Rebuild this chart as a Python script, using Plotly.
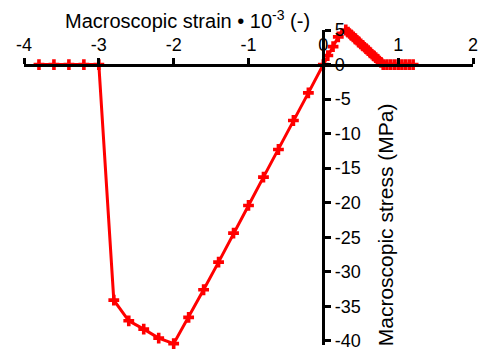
import plotly.graph_objects as go

# Macroscopic strain (x 10^-3) and stress (MPa)
strain = [-3.8, -3.6, -3.4, -3.2, -3.0,
          -2.8, -2.6, -2.4, -2.2, -2.0,
          -1.8, -1.6, -1.4, -1.2, -1.0, -0.8, -0.6, -0.4, -0.2, 0.0,
          0.06, 0.13, 0.20, 0.27,
          0.30, 0.33, 0.37, 0.40, 0.43, 0.47, 0.50, 0.53, 0.57, 0.60,
          0.63, 0.67, 0.70, 0.73, 0.77, 0.80,
          0.85, 0.90, 0.95, 1.00, 1.05, 1.10, 1.15, 1.20]
stress = [0.0, 0.0, 0.0, 0.0, 0.0,
          -34.1, -37.1, -38.3, -39.6, -40.4,
          -36.6, -32.6, -28.6, -24.4, -20.4, -16.3, -12.3, -8.1, -4.1, 0.0,
          1.3, 2.6, 4.0, 5.3,
          5.0, 4.7, 4.3, 4.0, 3.7, 3.3, 3.0, 2.7, 2.3, 2.0,
          1.7, 1.3, 1.0, 0.7, 0.3, 0.0,
          0.0, 0.0, 0.0, 0.0, 0.0, 0.0, 0.0, 0.0]

x_ticks = [-4, -3, -2, -1, 0, 1, 2]
y_ticks = [5, 0, -5, -10, -15, -20, -25, -30, -35, -40]

X_RANGE = [-4, 2]
Y_RANGE = [-40.6, 5]

FONT = "Liberation Sans, Arial, Helvetica, sans-serif"

fig = go.Figure()
fig.add_trace(go.Scatter(
    x=strain, y=stress, mode="lines+markers",
    line=dict(color="#ff0000", width=3),
    marker=dict(symbol="cross", size=9, color="#ff0000"),
    cliponaxis=False, showlegend=False,
))

x0_pos = (0 - X_RANGE[0]) / (X_RANGE[1] - X_RANGE[0])
y0_pos = (0 - Y_RANGE[0]) / (Y_RANGE[1] - Y_RANGE[0])

W, H = 481, 353
ML, MR, MT, MB = 24, 8, 30, 2
PW, PH = W - ML - MR, H - MT - MB

fig.update_layout(
    width=W, height=H,
    margin=dict(l=ML, r=MR, t=MT, b=MB),
    paper_bgcolor="white", plot_bgcolor="white",
    font=dict(family=FONT, size=18, color="black"),
    xaxis=dict(
        range=X_RANGE, tickvals=x_ticks, ticktext=[str(v) for v in x_ticks],
        side="top", anchor="free", position=y0_pos,
        showline=True, linecolor="black", linewidth=2.5,
        ticks="outside", ticklen=6, tickwidth=2.5, tickcolor="black",
        showgrid=False, zeroline=False, domain=[0, 1],
        tickfont=dict(size=18), ticklabelstandoff=0,
        ticklabeloverflow="allow",
    ),
    yaxis=dict(
        range=Y_RANGE, tickvals=y_ticks, ticktext=[str(v) for v in y_ticks],
        side="right", anchor="free", position=x0_pos,
        showline=True, linecolor="black", linewidth=2.5,
        ticks="outside", ticklen=6, tickwidth=2.5, tickcolor="black",
        showgrid=False, zeroline=False, domain=[0, 1],
        tickfont=dict(size=18), ticklabelstandoff=0,
        ticklabeloverflow="allow",
    ),
    annotations=[
        dict(text="Macroscopic strain • 10<sup>-3</sup> (-)",
             xref="paper", yref="paper", x=(187 - ML) / PW, y=1 + (MT - 19) / PH,
             xanchor="center", yanchor="middle", showarrow=False,
             font=dict(size=20, family=FONT)),
        dict(text="Macroscopic stress (MPa)", textangle=-90,
             xref="paper", yref="paper", x=(385 - ML) / PW, y=1 - (229 - MT) / PH,
             xanchor="center", yanchor="middle", showarrow=False,
             font=dict(size=21, family=FONT)),
    ],
)

fig.write_html("out.html")
